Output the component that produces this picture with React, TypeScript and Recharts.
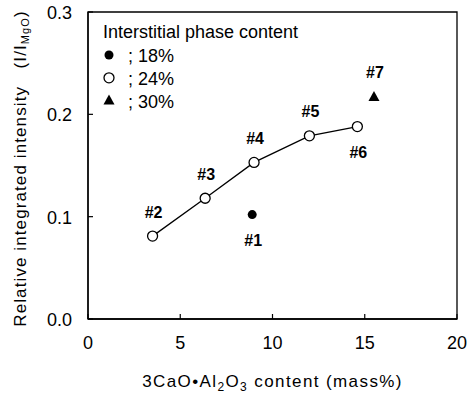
import React from 'react';
import { ScatterChart, Scatter, XAxis, YAxis, ReferenceArea, Legend, Label } from 'recharts';

const ids18 = ['#1'];
const mass18 = [8.9];
const intensity18 = [0.102];

const ids24 = ['#2', '#3', '#4', '#5', '#6'];
const mass24 = [3.5, 6.35, 9.0, 12.0, 14.6];
const intensity24 = [0.081, 0.118, 0.153, 0.179, 0.188];

const ids30 = ['#7'];
const mass30 = [15.5];
const intensity30 = [0.217];

const xTicks = [0, 5, 10, 15, 20];
const yTicks = [0, 0.1, 0.2, 0.3];
const legendTitle = 'Interstitial phase content';
const legendLabels = ['; 18%', '; 24%', '; 30%'];

const labelsBelow = ['#1', '#6'];

const FONT = '"Liberation Sans", Arial, sans-serif';

const build = (ids: string[], xs: number[], ys: number[]) =>
  ids.map((id, i) => ({ id, x: xs[i], y: ys[i] }));

const data18 = build(ids18, mass18, intensity18);
const data24 = build(ids24, mass24, intensity24);
const data30 = build(ids30, mass30, intensity30);

function Marker({ kind, cx, cy }: { kind: string; cx: number; cy: number }) {
  if (kind === 'filled') return <circle cx={cx} cy={cy} r={4.5} fill="#000" />;
  if (kind === 'open')
    return <circle cx={cx} cy={cy} r={5} fill="#fff" stroke="#000" strokeWidth={1.3} />;
  return (
    <polygon
      points={`${cx},${cy - 6} ${cx - 5.5},${cy + 4} ${cx + 5.5},${cy + 4}`}
      fill="#000"
    />
  );
}

const makeShape = (kind: string) => (props: any) => {
  const { cx, cy, payload } = props;
  const below = labelsBelow.includes(payload.id);
  return (
    <g>
      <Marker kind={kind} cx={cx} cy={cy} />
      <text
        x={cx + 1}
        y={below ? cy + 26 : cy - 24}
        textAnchor="middle"
        dominantBaseline="central"
        fontSize={16}
        fontWeight="bold"
        fontFamily={FONT}
        fill="#000"
      >
        {payload.id}
      </text>
    </g>
  );
};

const XTick = (props: any) => {
  const { x, y, payload } = props;
  return (
    <g>
      <line x1={x} y1={y} x2={x} y2={y - 5} stroke="#000" strokeWidth={1.2} />
      <text x={x} y={y + 30} textAnchor="middle" fontSize={18} fontFamily={FONT} fill="#000">
        {payload.value}
      </text>
    </g>
  );
};

const YTick = (props: any) => {
  const { x, y, payload } = props;
  return (
    <g>
      <line x1={x} y1={y} x2={x + 5} y2={y} stroke="#000" strokeWidth={1.2} />
      <text
        x={x - 16}
        y={y + 1}
        textAnchor="end"
        dominantBaseline="central"
        fontSize={18}
        fontFamily={FONT}
        fill="#000"
      >
        {Number(payload.value).toFixed(1)}
      </text>
    </g>
  );
};

const XLabel = (props: any) => {
  const vb = props.viewBox || {};
  const cx = vb.x + vb.width / 2;
  return (
    <text
      x={cx}
      y={vb.y + 68}
      textAnchor="middle"
      fontSize={17}
      letterSpacing={1.4}
      fontFamily={FONT}
      fill="#000"
    >
      3CaO•Al
      <tspan dy={4} fontSize={12}>2</tspan>
      <tspan dy={-4}>O</tspan>
      <tspan dy={4} fontSize={12}>3</tspan>
      <tspan dy={-4}> content (mass%)</tspan>
    </text>
  );
};

const YLabel = (props: any) => {
  const vb = props.viewBox || {};
  const cy = vb.y + vb.height / 2 + 3;
  const x = 26;
  return (
    <text
      x={x}
      y={cy}
      transform={`rotate(-90, ${x}, ${cy})`}
      textAnchor="middle"
      fontSize={17}
      letterSpacing={1.1}
      fontFamily={FONT}
      fill="#000"
    >
      Relative integrated intensity{'\u00a0\u00a0\u00a0'}(I/I
      <tspan dy={3} fontSize={11}>MgO</tspan>
      <tspan dy={-3}>)</tspan>
    </text>
  );
};

const LegendBox = () => {
  const icons = ['filled', 'open', 'triangle'];
  return (
    <svg width={230} height={100} style={{ display: 'block', overflow: 'visible' }}>
      <text x={2} y={18} fontSize={18} fontFamily={FONT} fill="#000">
        {legendTitle}
      </text>
      {legendLabels.map((lab, i) => {
        const cy = 35 + i * 22.8;
        return (
          <g key={lab}>
            <Marker kind={icons[i]} cx={8} cy={cy} />
            <text
              x={27}
              y={cy + 1}
              dominantBaseline="central"
              fontSize={18}
              fontFamily={FONT}
              fill="#000"
            >
              {lab}
            </text>
          </g>
        );
      })}
    </svg>
  );
};

export default function App() {
  return (
    <div style={{ position: 'absolute', left: 0, top: 0, background: '#fff', fontFamily: FONT }}>
      <ScatterChart width={468} height={394} margin={{ top: 12, right: 11, bottom: 30, left: 28 }}>
        <XAxis
          type="number"
          dataKey="x"
          domain={[0, 20]}
          ticks={xTicks}
          tickSize={0}
          tickMargin={0}
          tick={<XTick />}
          height={45}
          axisLine={{ stroke: '#000', strokeWidth: 1.3 }}
          tickLine={false}
        >
          <Label content={<XLabel />} />
        </XAxis>
        <YAxis
          type="number"
          dataKey="y"
          domain={[0, 0.3]}
          ticks={yTicks}
          tickSize={0}
          tickMargin={0}
          tick={<YTick />}
          width={60}
          axisLine={{ stroke: '#000', strokeWidth: 1.3 }}
          tickLine={false}
        >
          <Label content={<YLabel />} />
        </YAxis>
        <ReferenceArea x1={0} x2={20} y1={0} y2={0.3} fill="none" stroke="#000" strokeWidth={1.3} />
        <Legend
          layout="vertical"
          align="center"
          verticalAlign="middle"
          content={<LegendBox />}
          wrapperStyle={{ left: 101, top: 20, width: 230 }}
        />
        <Scatter
          data={data24}
          isAnimationActive={false}
          line={{ stroke: '#000', strokeWidth: 1.3 }}
          shape={makeShape('open')}
        />
        <Scatter data={data18} isAnimationActive={false} shape={makeShape('filled')} />
        <Scatter data={data30} isAnimationActive={false} shape={makeShape('triangle')} />
      </ScatterChart>
    </div>
  );
}
